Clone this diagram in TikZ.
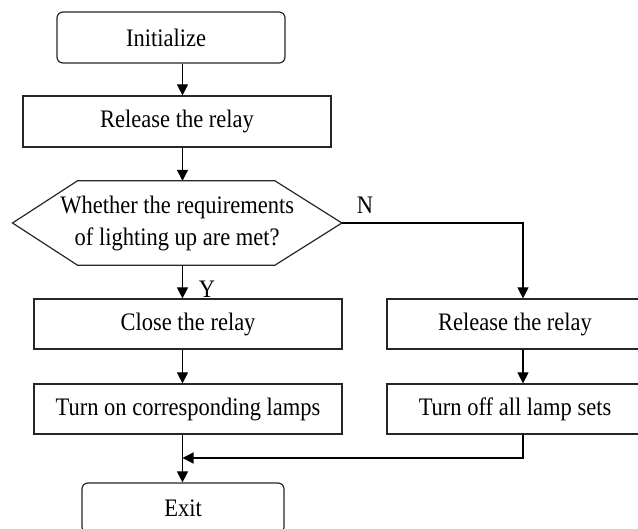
\documentclass[tikz,border=0pt]{standalone}
\usepackage{fontspec}
\setmainfont{Liberation Serif}
\usetikzlibrary{arrows.meta}
\newcommand{\stretchtxt}[1]{\scalebox{1}[1.12]{#1}}
\begin{document}
\begin{tikzpicture}[x=1pt,y=-1pt,
  txt/.style={font=\fontsize{22.5}{29}\selectfont},
  box/.style={draw=black!85, line width=1.2pt, inner sep=0pt, txt},
  rbox/.style={box, rounded corners=6pt},
  arr/.style={line width=1.2pt, -{Triangle[length=11pt,width=11pt]}},
  lbl/.style={txt, inner sep=0pt}]
\useasboundingbox (0,0) rectangle (638,529);
\coordinate (ax) at (182.5,0);
\node[rbox, minimum width=228pt, minimum height=51pt] (init) at (171,37.5) {\hspace*{-10pt}\stretchtxt{Initialize}};
\node[box, minimum width=308pt, minimum height=51pt] (rel1) at (177,121.5) {\stretchtxt{Release the relay}};
\node[txt, inner sep=0pt, minimum width=329pt, minimum height=84pt] (dec) at (177.2,223) {\stretchtxt{\begin{tabular}{@{}c@{}}Whether the requirements\\[0pt]of lighting up are met?\end{tabular}}};
\draw[draw=black!85, line width=1.2pt] (dec.west) -- ([xshift=65pt]dec.north west) -- ([xshift=-67pt]dec.north east) -- (dec.east) -- ([xshift=-67pt]dec.south east) -- ([xshift=65pt]dec.south west) -- cycle;
\node[box, minimum width=308pt, minimum height=50pt] (close) at (188,324) {\stretchtxt{Close the relay}};
\node[box, minimum width=308pt, minimum height=50pt] (ton) at (188,409) {\stretchtxt{Turn on corresponding lamps}};
\node[box, minimum width=272pt, minimum height=50pt] (rel2) at (523,324) {\hspace*{-16pt}\stretchtxt{Release the relay}};
\node[box, minimum width=272pt, minimum height=50pt] (toff) at (523,409) {\hspace*{-16pt}\stretchtxt{Turn off all lamp sets}};
\node[rbox, minimum width=202pt, minimum height=50pt] (exit) at (183,508) {\stretchtxt{Exit}};
\coordinate (m) at (182.5,458);
\node[lbl] (N) at (365,205) {\stretchtxt{N}};
\node[lbl] (Y) at (207,289) {\stretchtxt{Y}};
\draw[arr] (init.south -| ax) -- (rel1.north -| ax);
\draw[arr] (rel1.south -| ax) -- (dec.north -| ax);
\draw[arr] (dec.south -| ax) -- (close.north -| ax);
\draw[arr] (dec.east) -| (rel2.north);
\draw[arr] (close.south -| ax) -- (ton.north -| ax);
\draw[arr] (rel2.south) -- (toff.north);
\draw[arr] (ton.south -| ax) -- (exit.north -| ax);
\draw[arr] (toff.south) |- (m);
\end{tikzpicture}
\end{document}
